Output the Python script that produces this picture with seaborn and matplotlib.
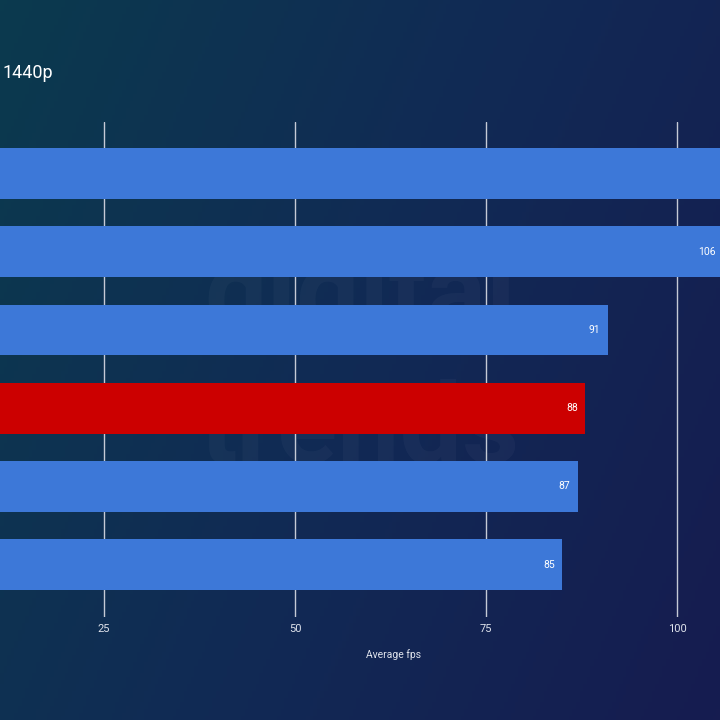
import numpy as np
import matplotlib
matplotlib.use("Agg")
import matplotlib.pyplot as plt
from matplotlib.colors import LinearSegmentedColormap
import seaborn as sns

# data (category names sit off the visible crop)
cards = ["Card 1", "Card 2", "Card 3", "Card 4", "Card 5", "Card 6"]
fps = [115, 106, 91, 88, 87, 85]
bar_colors = ["#3d78d8", "#3d78d8", "#3d78d8", "#cc0000", "#3d78d8", "#3d78d8"]
ticks = [25, 50, 75, 100]

sns.set_theme(style="white")
plt.rcParams["font.family"] = ["Roboto", "DejaVu Sans"]

fig = plt.figure(figsize=(7.2, 7.2), dpi=100)

# gradient background
bg = fig.add_axes([0, 0, 1, 1], zorder=0)
cmap = LinearSegmentedColormap.from_list("bg", ["#0b3a4e", "#112a55", "#161c50"])
gx, gy = np.meshgrid(np.linspace(0, 1, 200), np.linspace(0, 1, 200))
bg.imshow(gx * 0.7 + gy * 0.3, cmap=cmap, aspect="auto", extent=[0, 1, 0, 1], origin="upper")
bg.text(0.5, 0.585, "digital", ha="center", va="center", fontsize=80, fontweight="bold",
        color="white", alpha=0.03)
bg.text(0.5, 0.40, "trends", ha="center", va="center", fontsize=80, fontweight="bold",
        color="white", alpha=0.03)
bg.axis("off")

# main axes, left part cropped off the canvas like the source
xmax = 110
px = 7.64 / 720
left = -87 / 720
ax = fig.add_axes([left, 103 / 720, xmax * px, 495 / 720], zorder=1)
ax.patch.set_alpha(0)
sns.barplot(x=fps, y=cards, hue=cards, palette=bar_colors, legend=False,
            orient="h", width=0.65, ax=ax, saturation=1, linewidth=0, edgecolor="none")
for p in ax.patches:
    p.set_zorder(3)
ax.set_xlim(0, xmax)
ax.set_ylim(5.67, -0.66)
ax.set_xticks(ticks)
ax.set_xticklabels([str(t) for t in ticks], color="#dfe3ec", fontsize=8)
ax.tick_params(axis="x", length=0, pad=5)
ax.set_yticks([])
ax.set_ylabel("")
ax.set_xlabel("")
ax.grid(axis="x", color="#c5cad6", linewidth=1, zorder=0)
ax.set_axisbelow(True)
for s in ax.spines.values():
    s.set_visible(False)

for i, v in enumerate(fps):
    # only label bars whose label end is inside the visible canvas
    if left + (v - 1.0) * px < 0.999:
        ax.text(v - 1.0, i, str(v), ha="right", va="center", color="white",
                fontsize=7.5, zorder=4)

fig.text(394 / 720, 1 - 655 / 720, "Average fps", ha="center", va="center",
         color="#dfe3ec", fontsize=7.5)
fig.text(2 / 720, 1 - 73 / 720, "1440p", ha="left", va="center", color="white", fontsize=13)

fig.savefig("out.png", dpi=100)
